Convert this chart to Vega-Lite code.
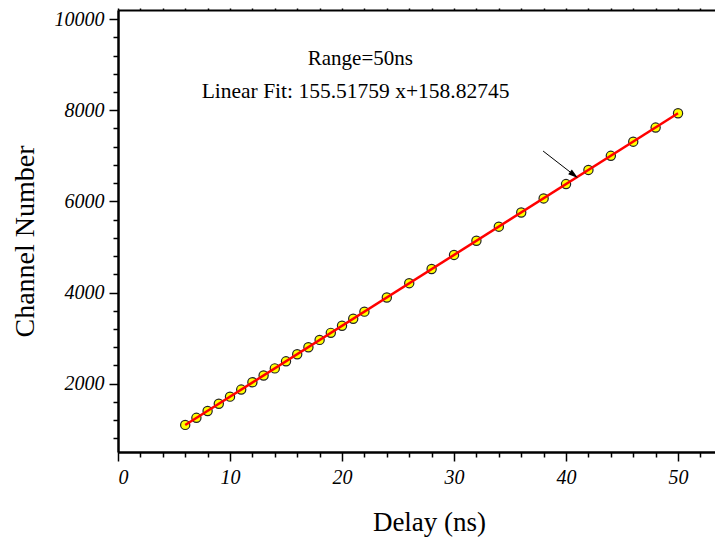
{
  "$schema": "https://vega.github.io/schema/vega-lite/v6.json",
  "autosize": "none",
  "padding": {"left": 118, "top": 10, "right": 0, "bottom": 88},
  "width": 597,
  "height": 442,
  "background": "white",
  "config": {
    "view": {"stroke": null},
    "axis": {"grid": false, "domainColor": "black", "domainWidth": 2, "tickColor": "black", "tickWidth": 1.5, "labelColor": "black", "labelFont": "Liberation Serif", "labelFontStyle": "italic", "labelFontSize": 20, "titleFont": "Liberation Serif", "titleFontWeight": "normal", "titleColor": "black"}
  },
  "datasets": {
    "pts": [
      {"delay": 6, "channel": 1095}, {"delay": 7, "channel": 1250}, {"delay": 8, "channel": 1400},
      {"delay": 9, "channel": 1560}, {"delay": 10, "channel": 1715}, {"delay": 11, "channel": 1870},
      {"delay": 12, "channel": 2030}, {"delay": 13, "channel": 2180}, {"delay": 14, "channel": 2335},
      {"delay": 15, "channel": 2490}, {"delay": 16, "channel": 2645}, {"delay": 17, "channel": 2800},
      {"delay": 18, "channel": 2960}, {"delay": 19, "channel": 3115}, {"delay": 20, "channel": 3270},
      {"delay": 21, "channel": 3425}, {"delay": 22, "channel": 3580}, {"delay": 24, "channel": 3890},
      {"delay": 26, "channel": 4205}, {"delay": 28, "channel": 4515}, {"delay": 30, "channel": 4825},
      {"delay": 32, "channel": 5135}, {"delay": 34, "channel": 5445}, {"delay": 36, "channel": 5755},
      {"delay": 38, "channel": 6065}, {"delay": 40, "channel": 6380}, {"delay": 42, "channel": 6690},
      {"delay": 44, "channel": 7000}, {"delay": 46, "channel": 7310}, {"delay": 48, "channel": 7620},
      {"delay": 50, "channel": 7935}
    ],
    "fit": [
      {"delay": 6, "channel": 1092}, {"delay": 50, "channel": 7935}
    ],
    "arrow": [
      {"x1": 37.95, "y1": 7105, "x2": 40.71, "y2": 6579}
    ],
    "head": [
      {"delay": 40.71, "channel": 6579}
    ],
    "notes": [
      {"delay": 16.94, "channel": 8992, "label": "Range=50ns", "fs": 21},
      {"delay": 7.47, "channel": 8268, "label": "Linear Fit: 155.51759 x+158.82745", "fs": 21.5}
    ]
  },
  "resolve": {"axis": {"x": "independent", "y": "independent"}},
  "layer": [
    {
      "data": {"name": "pts"},
      "mark": {"type": "point", "filled": true, "fill": "#ffff00", "stroke": "#222222", "strokeWidth": 1.2, "size": 85, "opacity": 1},
      "encoding": {
        "x": {"field": "delay", "type": "quantitative", "scale": {"domain": [0, 53.3], "nice": false, "zero": false},
          "axis": {"orient": "bottom", "values": [0, 10, 20, 30, 40, 50], "format": "d", "tickSize": 9, "labelPadding": 6, "title": "Delay (ns)", "titleFontSize": 27, "titleX": 311, "titleY": 78, "titleBaseline": "alphabetic", "titleAlign": "center"}},
        "y": {"field": "channel", "type": "quantitative", "scale": {"domain": [500, 10200], "nice": false, "zero": false},
          "axis": {"orient": "left", "values": [2000, 4000, 6000, 8000, 10000], "format": "d", "tickSize": 9, "labelPadding": 5, "labelBaseline": "middle", "title": "Channel Number", "titleFontSize": 28, "titleX": -85, "titleY": 231, "titleBaseline": "alphabetic", "titleAlign": "center", "titleAngle": 270}}
      }
    },
    {
      "data": {"name": "fit"},
      "mark": {"type": "line", "color": "#ff0000", "strokeWidth": 2.5},
      "encoding": {
        "x": {"field": "delay", "type": "quantitative",
          "axis": {"orient": "bottom", "values": [2, 4, 6, 8, 12, 14, 16, 18, 22, 24, 26, 28, 32, 34, 36, 38, 42, 44, 46, 48, 52], "tickSize": 5, "labels": false, "title": null}},
        "y": {"field": "channel", "type": "quantitative",
          "axis": {"orient": "left", "values": [800, 1200, 1600, 2400, 2800, 3200, 3600, 4400, 4800, 5200, 5600, 6400, 6800, 7200, 7600, 8400, 8800, 9200, 9600], "tickSize": 5, "labels": false, "title": null}}
      }
    },
    {
      "data": {"name": "arrow"},
      "mark": {"type": "rule", "color": "black", "strokeWidth": 1},
      "encoding": {
        "x": {"field": "x1", "type": "quantitative",
          "axis": {"orient": "top", "values": [0, 2, 4, 6, 8, 10, 12, 14, 16, 18, 20, 22, 24, 26, 28, 30, 32, 34, 36, 38, 40, 42, 44, 46, 48, 50, 52], "tickSize": 2, "labels": false, "title": null}},
        "y": {"field": "y1", "type": "quantitative", "axis": null},
        "x2": {"field": "x2"},
        "y2": {"field": "y2"}
      }
    },
    {
      "data": {"name": "head"},
      "mark": {"type": "point", "shape": "M 1 0 L -1 -0.6 L -1 0.6 Z", "filled": true, "color": "black", "size": 100, "angle": 37.6, "opacity": 1},
      "encoding": {
        "x": {"field": "delay", "type": "quantitative", "axis": null},
        "y": {"field": "channel", "type": "quantitative", "axis": null}
      }
    },
    {
      "data": {"name": "notes"},
      "mark": {"type": "text", "font": "Liberation Serif", "color": "black", "align": "left", "baseline": "alphabetic"},
      "encoding": {
        "x": {"field": "delay", "type": "quantitative", "axis": null},
        "y": {"field": "channel", "type": "quantitative", "axis": null},
        "text": {"field": "label"},
        "size": {"field": "fs", "type": "quantitative", "scale": null}
      }
    }
  ]
}
